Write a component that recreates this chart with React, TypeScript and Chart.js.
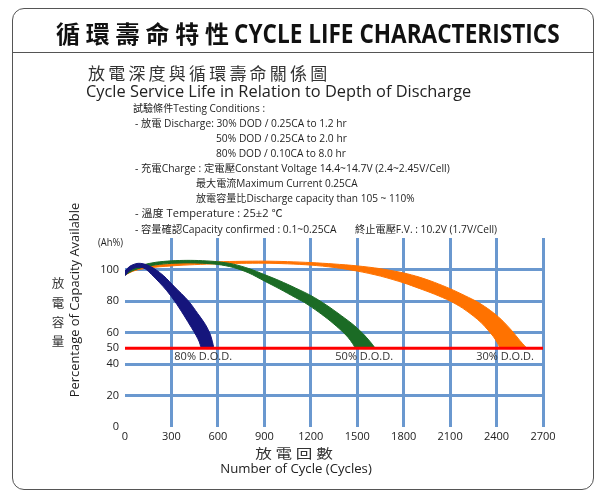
import React, { useEffect, useLayoutEffect, useRef, useState } from 'react';
import { Chart, registerables } from 'chart.js';

Chart.register(...registerables);

// ---------- data ----------
const xTicks = [0, 300, 600, 900, 1200, 1500, 1800, 2100, 2400, 2700];
const yTicks = [0, 20, 40, 50, 60, 80, 100];
const cutoffLevel = 50;

const dodLabels = ['80% D.O.D.', '50% D.O.D.', '30% D.O.D.'];
const dodLabelX = [505, 1545, 2455];
const dodLabelY = 44.6;

// 80% DOD band (outer / inner edge), [cycles, capacity %]
const dod80Upper = [[0, 99], [30, 102], [70, 103.7], [100, 103.9], [140, 103], [190, 100.5], [250, 96], [320, 89], [410, 80], [470, 72], [520, 65], [550, 59], [565, 54], [572, 51], [574, 50]];
const dod80Lower = [[0, 96], [30, 99.3], [70, 101.2], [100, 101.4], [130, 100.5], [170, 97], [220, 92], [270, 86.5], [320, 80], [380, 71], [430, 63], [460, 58], [480, 54], [489, 51], [492, 50]];

// 50% DOD band
const dod50Upper = [[0, 98.3], [50, 100.8], [120, 103], [200, 104.6], [300, 105.5], [400, 105.8], [500, 105.6], [600, 104.9], [700, 103.4], [800, 100.6], [900, 96.8], [1000, 92.8], [1100, 88.3], [1200, 83.5], [1300, 77.5], [1400, 70.5], [1480, 64.5], [1540, 59], [1585, 54], [1607, 51.2], [1614, 50]];
const dod50Lower = [[0, 96.5], [50, 99.3], [120, 101.5], [200, 103], [300, 103.9], [400, 104.2], [500, 104], [600, 103.2], [700, 101.3], [800, 97.8], [900, 92.7], [1000, 87.6], [1100, 82.2], [1160, 79], [1250, 73], [1330, 67], [1400, 61], [1440, 57], [1470, 53], [1482, 51], [1486, 50]];

// 30% DOD band
const dod30Upper = [[0, 98.3], [60, 100.6], [150, 102.3], [300, 103.6], [450, 104.4], [600, 104.9], [750, 105.2], [900, 105.3], [1050, 105], [1200, 104.4], [1350, 103.5], [1500, 102.3], [1650, 100.5], [1800, 97.8], [1900, 95.2], [2000, 91.8], [2100, 87.8], [2200, 83.2], [2280, 79.2], [2360, 74], [2430, 68.3], [2500, 61], [2550, 55], [2588, 50.8], [2598, 50]];
const dod30Lower = [[0, 96.5], [60, 99.2], [150, 101], [300, 102.3], [450, 103.1], [600, 103.6], [750, 103.9], [900, 104], [1050, 103.6], [1200, 102.8], [1350, 101.3], [1500, 99], [1650, 95.8], [1800, 91.5], [1900, 88], [2000, 84.3], [2100, 80], [2180, 75.5], [2250, 70.5], [2300, 66.3], [2345, 61.5], [2380, 57.3], [2405, 53.5], [2415, 51.5], [2420, 50]];

// ---------- styling ----------
const gridBlue = '#6a98cf';
const navy = '#15157c';
const green = '#1b6b25';
const orange = '#ff7200';
const LATIN = '"Open Sans", "Noto Sans CJK TC", sans-serif';
const CJK = '"Noto Sans CJK TC", "Open Sans", sans-serif';

type FitProps = {
  text: string; x: number; y: number; size: number; width?: number;
  align?: 'left' | 'center'; rotate?: number; weight?: number | string;
  family?: string; color?: string; spacing?: number;
};

function Fit(p: FitProps) {
  const ref = useRef<HTMLSpanElement>(null);
  const [sx, setSx] = useState(1);
  useLayoutEffect(() => {
    const measure = () => {
      const el = ref.current;
      if (!el || !p.width) return;
      const w = el.offsetWidth;
      if (w > 0) setSx(p.width / w);
    };
    measure();
    const f = (document as any).fonts;
    if (f && f.ready) f.ready.then(measure);
  }, [p.text, p.width, p.size]);
  const align = p.align ?? 'left';
  const transform = align === 'center'
    ? `translate(-50%, -50%) rotate(${p.rotate ?? 0}deg) scaleX(${sx})`
    : `translate(0, -50%) scaleX(${sx})`;
  return (
    <span
      ref={ref}
      style={{
        position: 'absolute', left: p.x, top: p.y, fontSize: p.size,
        lineHeight: `${p.size}px`, fontFamily: p.family ?? LATIN,
        fontWeight: p.weight ?? 400, color: p.color ?? '#1e1e1e',
        whiteSpace: 'pre', transform,
        transformOrigin: align === 'center' ? '50% 50%' : '0 50%',
        letterSpacing: p.spacing ? `${p.spacing}px` : undefined,
      }}
    >{p.text}</span>
  );
}

const dodLabelPlugin = {
  id: 'dodLabels',
  afterDatasetsDraw(chart: any) {
    const { ctx, scales } = chart;
    ctx.save();
    ctx.font = `11px ${LATIN}`;
    ctx.fillStyle = '#333';
    ctx.textAlign = 'center';
    ctx.textBaseline = 'middle';
    dodLabels.forEach((t, i) => {
      ctx.fillText(t, scales.x.getPixelForValue(dodLabelX[i]), scales.y.getPixelForValue(dodLabelY));
    });
    ctx.restore();
  },
};

function band(upper: number[][], lower: number[][]) {
  return [...upper, ...lower.slice().reverse()].map(([x, y]) => ({ x, y }));
}

export default function App() {
  const canvasRef = useRef<HTMLCanvasElement>(null);

  useEffect(() => {
    const c = canvasRef.current;
    if (!c) return;
    const bandDs = (label: string, up: number[][], lo: number[][], color: string, order: number) => ({
      label, data: band(up, lo), fill: 'shape', backgroundColor: color, borderColor: color,
      borderWidth: 1, pointRadius: 0, tension: 0.3, order,
    });
    const chart = new Chart(c, {
      type: 'line',
      data: {
        datasets: [
          { label: 'cutoff', data: [{ x: 0, y: cutoffLevel }, { x: 2700, y: cutoffLevel }], borderColor: '#ff0000', borderWidth: 3, pointRadius: 0, fill: false, tension: 0, order: 0 },
          bandDs('80% DOD', dod80Upper, dod80Lower, navy, 1),
          bandDs('50% DOD', dod50Upper, dod50Lower, green, 2),
          bandDs('30% DOD', dod30Upper, dod30Lower, orange, 3),
        ] as any,
      },
      options: {
        responsive: false,
        animation: false,
        events: [],
        layout: { padding: { left: 0, right: 54, top: 238, bottom: 0 } },
        plugins: { legend: { display: false }, tooltip: { enabled: false } },
        scales: {
          x: {
            type: 'linear', min: 0, max: 2700,
            afterBuildTicks: (s: any) => { s.ticks = xTicks.map((v) => ({ value: v })); },
            afterFit: (s: any) => { s.height = 64; },
            ticks: { padding: 3, color: '#222', font: { family: LATIN, size: 11 }, callback: (v: any) => String(v), maxRotation: 0, autoSkip: false },
            grid: {
              color: (ctx: any) => (ctx.tick && ctx.tick.value === 0 ? 'rgba(0,0,0,0)' : gridBlue),
              lineWidth: 3, drawTicks: false,
            },
            border: { display: false },
          },
          y: {
            type: 'linear', min: 0, max: 120,
            afterBuildTicks: (s: any) => { s.ticks = yTicks.map((v) => ({ value: v })); },
            afterFit: (s: any) => { s.width = 125; },
            ticks: { padding: 6, color: '#222', font: { family: LATIN, size: 11 }, callback: (v: any) => String(v), autoSkip: false },
            grid: {
              color: (ctx: any) => (ctx.tick && (ctx.tick.value === 0 || ctx.tick.value === cutoffLevel) ? 'rgba(0,0,0,0)' : gridBlue),
              lineWidth: 3, drawTicks: false,
            },
            border: { display: false },
          },
        },
      } as any,
      plugins: [dodLabelPlugin],
    });
    return () => chart.destroy();
  }, []);

  return (
    <div style={{ position: 'absolute', left: 0, top: 0, width: 597, height: 491, background: '#fff', overflow: 'hidden' }}>
      <div style={{ position: 'absolute', left: 12, top: 8, width: 580, height: 480, border: '1px solid #555', borderRadius: 12 }} />
      <div style={{ position: 'absolute', left: 12, top: 52, width: 582, height: 1, background: '#555' }} />
      <canvas ref={canvasRef} width={597} height={491} style={{ position: 'absolute', left: 0, top: 0, width: 597, height: 491 }} />

      <Fit text="循環壽命特性" x={56} y={33} size={24} weight={700} family={CJK} spacing={5.8} color="#111" />
      <Fit text="CYCLE LIFE CHARACTERISTICS" x={234} y={33} size={26} weight={700} width={326} color="#111" />

      <Fit text="放電深度與循環壽命關係圖" x={88} y={72} size={17} family={CJK} spacing={3.2} color="#333" />
      <Fit text="Cycle Service Life in Relation to Depth of Discharge" x={86} y={90} size={17} width={385} color="#222" />

      <Fit text="試驗條件Testing Conditions :" x={133} y={108} size={10.5} width={132} />
      <Fit text="- 放電 Discharge: 30% DOD / 0.25CA to 1.2 hr" x={135} y={122.5} size={10.5} width={212} />
      <Fit text="50% DOD / 0.25CA to 2.0 hr" x={216} y={137.5} size={10.5} width={131} />
      <Fit text="80% DOD / 0.10CA to 8.0 hr" x={216} y={152.5} size={10.5} width={130} />
      <Fit text="- 充電Charge : 定電壓Constant Voltage 14.4~14.7V (2.4~2.45V/Cell)" x={135} y={167.5} size={10.5} width={315} />
      <Fit text="最大電流Maximum Current 0.25CA" x={196} y={183} size={10.5} width={162} />
      <Fit text="放電容量比Discharge capacity than 105 ~ 110%" x={196} y={198} size={10.5} width={219} />
      <Fit text="- 溫度 Temperature : 25±2 ℃" x={135} y={213} size={10.5} width={148} />
      <Fit text="- 容量確認Capacity confirmed : 0.1~0.25CA" x={135} y={228.5} size={10.5} width={202} />
      <Fit text="終止電壓F.V. : 10.2V (1.7V/Cell)" x={355} y={228.5} size={10.5} width={142} />

      <Fit text="(Ah%)" x={98} y={241.5} size={10.5} width={25} />
      <Fit text="Percentage of Capacity Available" x={75} y={300} size={13.5} width={195} align="center" rotate={-90} />
      <Fit text="放" x={58} y={283} size={12.5} family={CJK} align="center" color="#333" />
      <Fit text="電" x={58} y={303} size={12.5} family={CJK} align="center" color="#333" />
      <Fit text="容" x={58} y={322} size={12.5} family={CJK} align="center" color="#333" />
      <Fit text="量" x={58} y={341} size={12.5} family={CJK} align="center" color="#333" />

      <Fit text="放 電 回 數" x={294} y={452} size={13} family={CJK} align="center" width={78} color="#333" />
      <Fit text="Number of Cycle (Cycles)" x={296} y={467.5} size={13} width={152} align="center" color="#222" />
    </div>
  );
}
